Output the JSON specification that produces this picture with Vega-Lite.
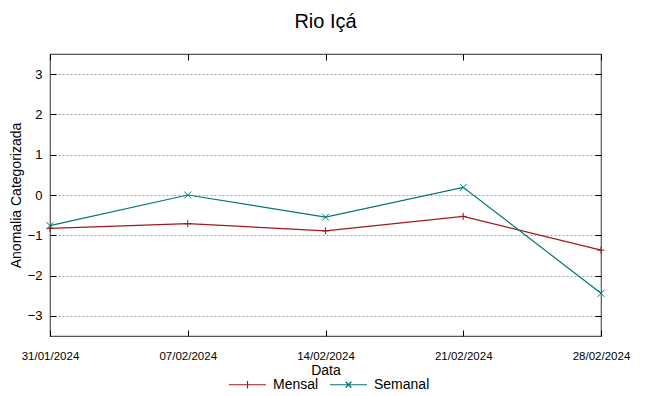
{
  "$schema": "https://vega.github.io/schema/vega-lite/v6.json",
  "width": 551,
  "height": 282,
  "autosize": {"type": "none"},
  "padding": {"left": 50, "top": 54, "right": 48, "bottom": 60},
  "background": "white",
  "title": {"text": "Rio Içá", "fontSize": 20, "font": "Liberation Sans", "fontWeight": "normal", "anchor": "middle", "offset": 22, "color": "#000"},
  "config": {"view": {"stroke": "#555", "strokeWidth": 1.2}, "font": "Liberation Sans"},
  "data": {
    "values": [
      {"date": "2024-01-31", "series": "Mensal", "value": -0.83},
      {"date": "2024-02-07", "series": "Mensal", "value": -0.71},
      {"date": "2024-02-14", "series": "Mensal", "value": -0.89},
      {"date": "2024-02-21", "series": "Mensal", "value": -0.53},
      {"date": "2024-02-28", "series": "Mensal", "value": -1.37},
      {"date": "2024-01-31", "series": "Semanal", "value": -0.76},
      {"date": "2024-02-07", "series": "Semanal", "value": 0.0},
      {"date": "2024-02-14", "series": "Semanal", "value": -0.55},
      {"date": "2024-02-21", "series": "Semanal", "value": 0.19},
      {"date": "2024-02-28", "series": "Semanal", "value": -2.44}
    ],
    "format": {"parse": {"date": "date:'%Y-%m-%d'"}}
  },
  "resolve": {"axis": {"x": "independent", "y": "independent"}},
  "layer": [
    {
      "mark": {"type": "point", "filled": false, "size": 1369, "strokeWidth": 1.2, "opacity": 0},
      "encoding": {
        "x": {"field": "date", "type": "temporal", "axis": null},
        "y": {"field": "value", "type": "quantitative", "axis": null},
        "color": {
          "field": "series", "type": "nominal",
          "scale": {"domain": ["Mensal", "Semanal"], "range": ["#a3171c", "#007575"]},
          "legend": {
            "title": null, "orient": "none", "legendX": 178, "legendY": 311, "direction": "horizontal", "padding": 0,
            "labelFontSize": 14, "labelColor": "#000", "labelFont": "Liberation Sans",
            "symbolSize": 1369, "symbolStrokeWidth": 1.2, "symbolOpacity": 1, "symbolFillColor": "transparent",
            "columnPadding": 8, "labelOffset": 6
          }
        },
        "shape": {
          "field": "series", "type": "nominal",
          "scale": {"domain": ["Mensal", "Semanal"], "range": ["M-1,0L1,0M0,-0.2L0,0.2", "M-1,0L1,0M-0.16,-0.16L0.16,0.16M-0.16,0.16L0.16,-0.16"]},
          "legend": {
            "title": null, "orient": "none", "legendX": 178, "legendY": 311, "direction": "horizontal", "padding": 0,
            "labelFontSize": 14, "labelColor": "#000", "labelFont": "Liberation Sans",
            "symbolSize": 1369, "symbolStrokeWidth": 1.2, "symbolOpacity": 1, "symbolFillColor": "transparent",
            "columnPadding": 8, "labelOffset": 6
          }
        }
      }
    },
    {
      "mark": {"type": "line", "strokeWidth": 1.2},
      "encoding": {
        "x": {
          "field": "date", "type": "temporal",
          "scale": {"domain": [{"year": 2024, "month": 1, "date": 31}, {"year": 2024, "month": 2, "date": 28}], "nice": false},
          "axis": {
            "values": [{"year": 2024, "month": 1, "date": 31}, {"year": 2024, "month": 2, "date": 7}, {"year": 2024, "month": 2, "date": 14}, {"year": 2024, "month": 2, "date": 21}, {"year": 2024, "month": 2, "date": 28}],
            "format": "%d/%m/%Y", "tickSize": -6, "tickColor": "#000", "labelPadding": 20,
            "labelFont": "Liberation Sans", "labelFontSize": 11.5, "labelColor": "#000",
            "labelFlush": false, "labelOverlap": false,
            "title": "Data", "titleFontSize": 14, "titleFontWeight": "normal", "titleColor": "#000", "titlePadding": 2,
            "grid": false, "domain": false
          }
        },
        "y": {
          "field": "value", "type": "quantitative",
          "scale": {"domain": [-3.5, 3.5], "nice": false},
          "axis": {
            "values": [-3, -2, -1, 0, 1, 2, 3],
            "tickSize": -6, "tickColor": "#000", "labelPadding": 14, "labelFontSize": 13, "labelColor": "#000",
            "title": "Anomalia Categorizada", "titleFontSize": 14, "titleFontWeight": "normal", "titleColor": "#000", "titlePadding": 4,
            "grid": true, "gridDash": [2, 2], "gridColor": "#a0a0a0", "gridWidth": 1, "domain": false
          }
        },
        "color": {"field": "series", "type": "nominal", "legend": null}
      }
    },
    {
      "transform": [{"filter": "datum.series === 'Mensal'"}],
      "mark": {"type": "point", "filled": false, "size": 49, "strokeWidth": 1, "opacity": 1, "shape": "M0,-1L0,1M-1,0L1,0"},
      "encoding": {
        "x": {
          "field": "date", "type": "temporal",
          "axis": {
            "orient": "top", "values": [{"year": 2024, "month": 1, "date": 31}, {"year": 2024, "month": 2, "date": 7}, {"year": 2024, "month": 2, "date": 14}, {"year": 2024, "month": 2, "date": 21}, {"year": 2024, "month": 2, "date": 28}],
            "labels": false, "tickSize": -6, "tickColor": "#000", "title": null, "grid": false, "domain": false
          }
        },
        "y": {
          "field": "value", "type": "quantitative",
          "axis": {
            "orient": "right", "values": [-3, -2, -1, 0, 1, 2, 3],
            "labels": false, "tickSize": -6, "tickColor": "#000", "title": null, "grid": false, "domain": false
          }
        },
        "color": {"field": "series", "type": "nominal", "legend": null}
      }
    },
    {
      "transform": [{"filter": "datum.series === 'Semanal'"}],
      "mark": {"type": "point", "filled": false, "size": 49, "strokeWidth": 1, "opacity": 1, "shape": "M-1,-1L1,1M-1,1L1,-1"},
      "encoding": {
        "x": {"field": "date", "type": "temporal", "axis": null},
        "y": {"field": "value", "type": "quantitative", "axis": null},
        "color": {"field": "series", "type": "nominal", "legend": null}
      }
    }
  ]
}
